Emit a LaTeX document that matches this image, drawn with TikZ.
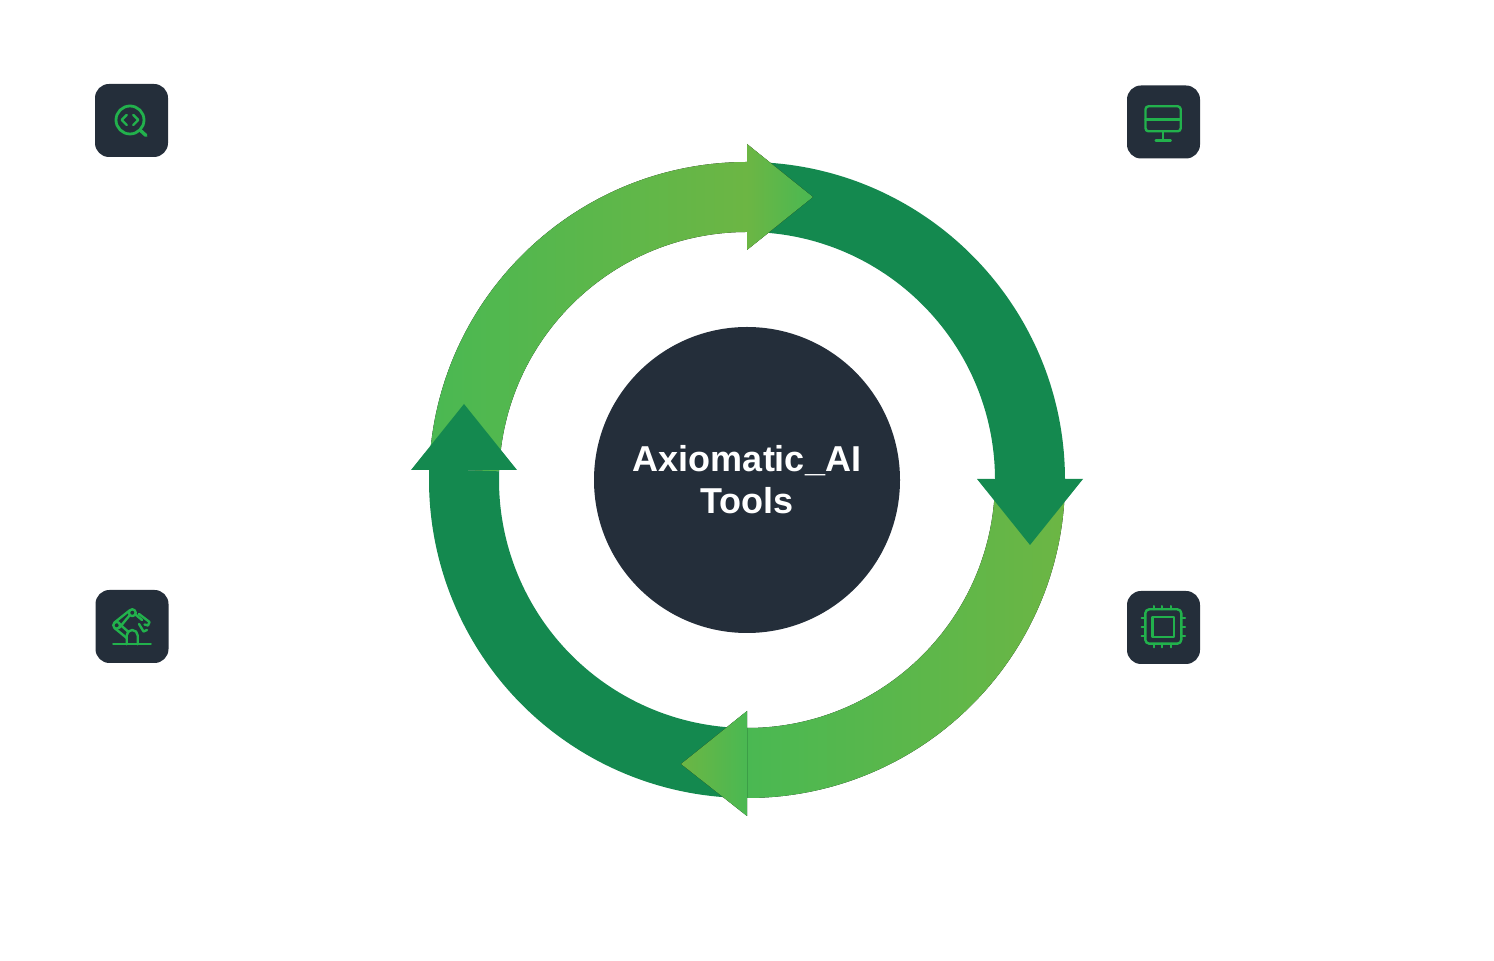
\documentclass[tikz,border=0pt]{standalone}
\usepackage{fontspec}
\setmainfont{Liberation Sans}
\usetikzlibrary{calc}
\definecolor{slate}{HTML}{242E3A}
\definecolor{darkleaf}{HTML}{14894F}
\definecolor{leafa}{HTML}{6CB644}
\definecolor{leafb}{HTML}{4AB852}
\definecolor{icongreen}{HTML}{22B14C}
\def\ringband[#1](#2:#3){\fill[#1] ($(ringcentre)+(#2:318pt)$) arc (#2:#3:318pt) -- ($(ringcentre)+(#3:248pt)$) arc (#3:#2:248pt) -- cycle;}
\tikzset{
	iconbox/.style={fill=slate, rounded corners=14pt, minimum size=73pt, inner sep=0pt},
	iconline/.style={draw=icongreen, line width=2.4pt, line cap=round, line join=round},
	hubnode/.style={circle, fill=slate, minimum size=306pt, inner sep=0pt, text=white, align=center,
		font=\fontsize{36}{42}\selectfont\bfseries},
}

\begin{document}
\begin{tikzpicture}[x=1pt, y=1pt]
	\useasboundingbox (0, 0) rectangle (1494, 961);
	\coordinate (ringcentre) at (747, 481);

	%%%%% RING %%%%%
	\ringband[left color=leafb, right color=leafa](178:90);
	\ringband[darkleaf](90:0);
	\ringband[left color=leafb, right color=leafa](0:-90);
	\ringband[darkleaf](270:178);

	\fill[left color=leafa, right color=leafb] (747, 817) -- (813, 764) -- (747, 711) -- cycle;
	\fill[darkleaf] (977, 482) -- (1083, 482) -- (1030, 416) -- cycle;
	\fill[left color=leafa, right color=leafb] (747, 250) -- (681, 197) -- (747, 145) -- cycle;
	\fill[darkleaf] (411, 491) -- (517, 491) -- (464, 557) -- cycle;

	\node[hubnode] (hub) at (ringcentre) {Axiomatic\_AI\\Tools};

	%%%%% ICONS %%%%%
	\node[iconbox] (codebox) at (131.5, 840.5) {};
	\node[iconbox] (screenbox) at (1163.5, 839) {};
	\node[iconbox] (robotbox) at (132, 334.5) {};
	\node[iconbox] (chipbox) at (1163.5, 333.5) {};

	% code search
	\draw[iconline, line width=2.8pt] (130, 841) circle (14);
	\draw[iconline, line width=3.4pt] (140.5, 830.5) -- (146, 825.5);
	\draw[iconline] (126.7, 846) -- (121.7, 841) -- (126.7, 836);
	\draw[iconline] (133.3, 846) -- (138.3, 841) -- (133.3, 836);

	% screen
	\draw[iconline, rounded corners=3pt] (1145.5, 854.7) rectangle (1180.7, 829.7);
	\draw[iconline] (1145.5, 841.3) -- (1180.7, 841.3);
	\draw[iconline] (1163, 829.7) -- (1163, 820.3);
	\draw[iconline] (1155.7, 820.3) -- (1170.7, 820.3);

	% robot arm
	\draw[iconline] (113.3, 316.7) -- (150.7, 316.7);
	\draw[iconline] (126.7, 316.7) -- (126.7, 325.5) arc (180:0:5.5) -- (137.7, 316.7);
	\draw[iconline] (132.3, 348.3) circle (3.4);
	\draw[iconline] (116.7, 335.7) circle (3.4);
	\draw[iconline] (114.5, 338.5) -- (129.5, 350.5);
	\draw[iconline] (119.5, 333.5) -- (129.5, 345.5);
	\draw[iconline] (114.5, 333) -- (126.7, 323);
	\draw[iconline] (119.5, 337) -- (128.5, 329);
	\draw[iconline] (135.5, 346.5) -- (142, 341);
	\draw[iconline] (139, 347) -- (149.5, 339) -- (148, 335.5) -- (144.5, 336.5);
	\draw[iconline] (139, 337) -- (143.5, 329.5) -- (147, 331);

	% chip
	\draw[iconline, rounded corners=4pt] (1145.3, 351.7) rectangle (1181.3, 317.3);
	\draw[iconline] (1152.3, 344) rectangle (1173.7, 324);
	\foreach \px in {1153.7, 1162.3, 1171.3} {
		\draw[iconline, line width=2pt] (\px, 355) -- (\px, 351.7);
		\draw[iconline, line width=2pt] (\px, 317.3) -- (\px, 313.5);
	}
	\foreach \py in {343.3, 334, 325} {
		\draw[iconline, line width=2pt] (1141.5, \py) -- (1145.3, \py);
		\draw[iconline, line width=2pt] (1181.3, \py) -- (1185, \py);
	}
\end{tikzpicture}
\end{document}
